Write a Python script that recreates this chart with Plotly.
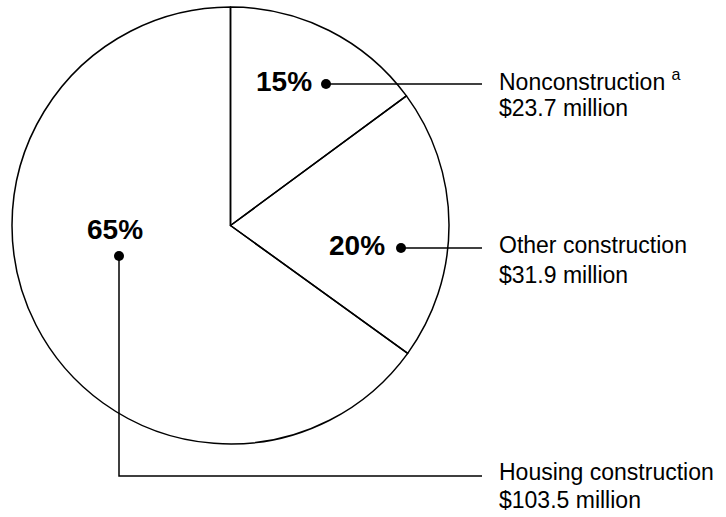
import plotly.graph_objects as go

# ---- data ----
categories = ["Nonconstruction", "Other construction", "Housing construction"]
values = [23.7, 31.9, 103.5]            # $ million
pct_labels = ["15%", "20%", "65%"]
amount_labels = ["$23.7 million", "$31.9 million", "$103.5 million"]
footnotes = ["a", "", ""]

W, H = 726, 517
FONT = "Liberation Sans, Arial, Helvetica, sans-serif"

# layout geometry (pixels, y downward)
pie_box = dict(left=12, right=449, top=6, bottom=445)
pct_pos = [(284, 81), (357, 245), (115, 229)]
dot_pos = [(326, 84), (401, 248), (119, 256)]
leader_paths = [
    [(326, 84), (482, 84)],
    [(401, 248), (482, 248)],
    [(119, 256), (119, 476), (482, 476)],
]
label_x = 497
line1_y = [80, 245, 472]
line2_y = [108, 275, 500]

fig = go.Figure()

fig.add_trace(go.Pie(
    labels=categories,
    values=values,
    sort=False,
    direction="clockwise",
    rotation=0,
    textinfo="none",
    hoverinfo="label+value+percent",
    marker=dict(colors=["rgba(255,255,255,0)"] * 3,
                line=dict(color="black", width=1.5)),
    domain=dict(x=[pie_box["left"] / W, pie_box["right"] / W],
                y=[1 - pie_box["bottom"] / H, 1 - pie_box["top"] / H]),
    showlegend=False,
))

for path in leader_paths:
    fig.add_trace(go.Scatter(
        x=[p[0] for p in path], y=[p[1] for p in path],
        mode="lines", line=dict(color="black", width=1.5),
        hoverinfo="skip", showlegend=False,
    ))

fig.add_trace(go.Scatter(
    x=[p[0] for p in dot_pos], y=[p[1] for p in dot_pos],
    mode="markers", marker=dict(color="black", size=10),
    hoverinfo="skip", showlegend=False,
))

for i, cat in enumerate(categories):
    px, py = pct_pos[i]
    fig.add_annotation(
        x=px, y=py, xref="x", yref="y", text=f"<b>{pct_labels[i]}</b>",
        showarrow=False, xanchor="center", yanchor="middle",
        font=dict(family=FONT, size=28, color="black"),
    )
    sup = f" <sup>{footnotes[i]}</sup>" if footnotes[i] else ""
    fig.add_annotation(
        x=label_x, y=line1_y[i], xref="x", yref="y",
        text=f"{cat}{sup}",
        showarrow=False, xanchor="left", yanchor="middle", align="left",
        font=dict(family=FONT, size=23, color="black"),
    )
    fig.add_annotation(
        x=label_x, y=line2_y[i], xref="x", yref="y",
        text=amount_labels[i],
        showarrow=False, xanchor="left", yanchor="middle", align="left",
        font=dict(family=FONT, size=23, color="black"),
    )

fig.update_layout(
    width=W, height=H,
    margin=dict(l=0, r=0, t=0, b=0),
    paper_bgcolor="white", plot_bgcolor="white",
    xaxis=dict(range=[0, W], visible=False, domain=[0, 1], fixedrange=True),
    yaxis=dict(range=[H, 0], visible=False, domain=[0, 1], fixedrange=True),
    showlegend=False,
)

fig.write_html("out.html", config={"displayModeBar": False},
               post_script="document.body.style.margin='0';")
